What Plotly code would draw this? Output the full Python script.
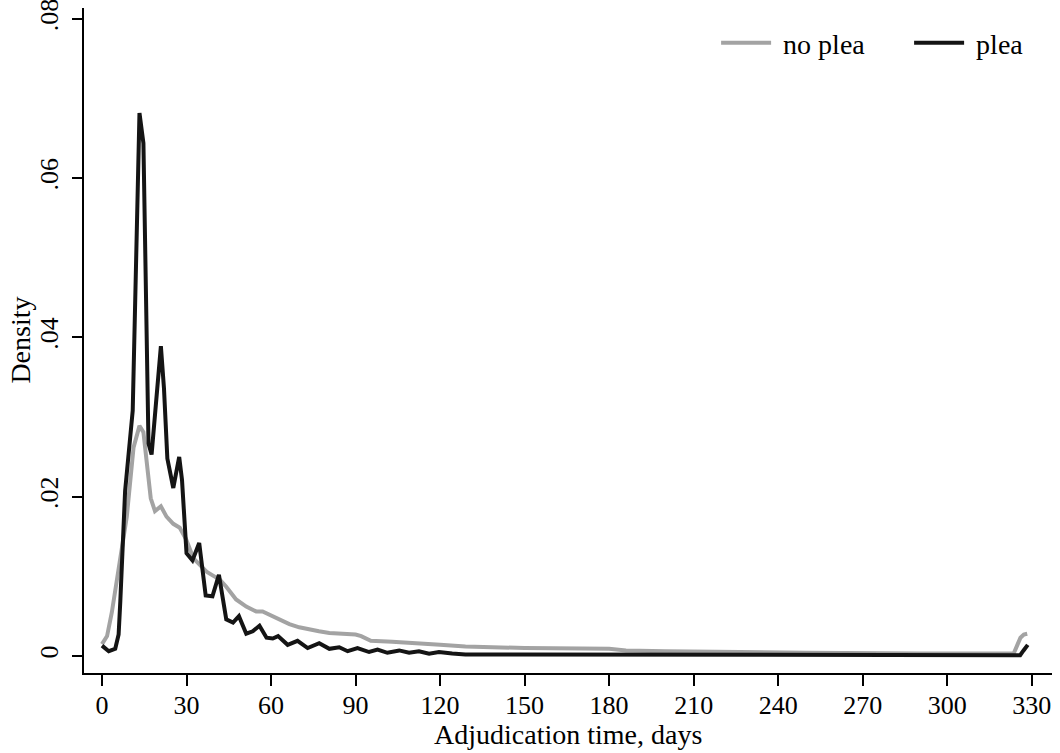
import plotly.graph_objects as go

# ---- data ----
plea_days = [0, 2.4, 4.7, 5.9, 6.5, 8.2, 10.9, 13.3, 14.7, 16.5, 17.6, 20.9, 22.0, 23.2,
             25.3, 27.4, 28.4, 30.0, 32.1, 34.5, 36.8, 39.2, 41.5, 44.1, 46.5, 48.6,
             51.2, 53.5, 55.9, 58.4, 60.6, 62.5, 65.9, 69.4, 73.0, 77.1, 80.7, 84.2,
             87.2, 90.7, 94.8, 97.8, 101.3, 105.5, 109.0, 112.5, 116.1, 119.6, 124.3,
             129.0, 136.0, 141.0, 150.0, 165.0, 180.0, 195.0, 210.0, 240.0, 270.0,
             300.0, 325.9, 327.1, 328.6]
plea_density = [0.0013, 0.0006, 0.0009, 0.0027, 0.0069, 0.0207, 0.0308, 0.0682, 0.0644,
                0.0267, 0.0253, 0.0389, 0.0336, 0.0248, 0.0211, 0.0250, 0.0221, 0.0129,
                0.0120, 0.0142, 0.0076, 0.0075, 0.0102, 0.0046, 0.0042, 0.0050, 0.0028,
                0.0031, 0.0038, 0.0023, 0.0022, 0.0025, 0.0014, 0.0019, 0.0010, 0.0016,
                0.0009, 0.0011, 0.0006, 0.0010, 0.0005, 0.0008, 0.0004, 0.0007, 0.0004,
                0.0006, 0.0003, 0.0005, 0.0003, 0.0002, 0.0002, 0.0002, 0.0002, 0.00015,
                0.00015, 0.0001, 0.0001, 0.0001, 0.0001, 0.0001, 0.0001, 0.0007, 0.0014]

noplea_days = [0, 1.8, 3.5, 5.9, 8.8, 11.2, 13.3, 14.7, 15.9, 17.3, 18.8, 20.9, 22.9,
               25.3, 27.6, 29.8, 32.4, 34.7, 37.1, 39.4, 41.8, 44.1, 47.6, 51.2, 54.7,
               57.0, 60.6, 62.9, 66.5, 70.0, 73.6, 77.0, 80.7, 85.0, 90.0, 92.0, 95.4,
               103.0, 110.0, 120.0, 129.0, 141.0, 150.0, 180.0, 183.0, 186.0, 200.0,
               220.0, 250.0, 290.0, 323.6, 324.8, 326.0, 327.2, 328.4]
noplea_density = [0.0015, 0.0025, 0.0055, 0.0106, 0.0175, 0.0262, 0.0289, 0.0281, 0.0244,
                  0.0198, 0.0182, 0.0188, 0.0175, 0.0166, 0.0161, 0.0147, 0.0123, 0.0115,
                  0.0106, 0.0101, 0.0096, 0.0087, 0.0071, 0.0062, 0.0056, 0.0056, 0.0050,
                  0.0046, 0.0040, 0.0036, 0.0033, 0.0031, 0.0029, 0.0028, 0.0027, 0.0025,
                  0.0019, 0.0018, 0.0016, 0.0014, 0.0012, 0.0011, 0.0010, 0.0009, 0.0008,
                  0.0007, 0.0006, 0.0005, 0.0004, 0.0003, 0.0003, 0.0013, 0.0023, 0.0027,
                  0.0028]

x_ticks = [0, 30, 60, 90, 120, 150, 180, 210, 240, 270, 300, 330]
y_ticks = [0, 0.02, 0.04, 0.06, 0.08]
y_tick_text = ["0", ".02", ".04", ".06", ".08"]

FONT = "Liberation Serif"
FS = 28
TFS = 26

fig = go.Figure()
fig.add_trace(go.Scatter(x=noplea_days, y=noplea_density, mode="lines", name=" no plea",
                         line=dict(color="#a3a3a3", width=4)))
fig.add_trace(go.Scatter(x=plea_days, y=plea_density, mode="lines", name=" plea",
                         line=dict(color="#141414", width=4)))

fig.update_layout(
    width=1060, height=753,
    margin=dict(l=84, r=8, t=8, b=80, autoexpand=False),
    paper_bgcolor="white", plot_bgcolor="white",
    font=dict(family=FONT, size=FS, color="black"),
    showlegend=True,
    legend=dict(orientation="h", x=0.653, xanchor="left", y=0.985, yanchor="top",
                itemwidth=50, entrywidth=128, bgcolor="rgba(0,0,0,0)",
                font=dict(size=FS), traceorder="normal"),
    annotations=[
        dict(text="Density", xref="paper", yref="paper", x=-0.066, y=0.5,
             xanchor="center", yanchor="middle", textangle=-90, showarrow=False,
             font=dict(size=FS)),
        dict(text="Adjudication time, days", xref="paper", yref="paper",
             x=0.5, y=-0.0925, xanchor="center", yanchor="middle", showarrow=False,
             font=dict(size=FS)),
    ],
)
fig.update_xaxes(
    range=[-6.39, 337.2], tickmode="array", tickvals=x_ticks,
    tickfont=dict(size=TFS), ticklabelstandoff=-3,
    showline=True, linecolor="black", linewidth=1.5, mirror=False,
    ticks="outside", ticklen=11, tickwidth=1.5, tickcolor="black",
    showgrid=False, zeroline=False, automargin=False,
)
fig.update_yaxes(
    range=[-0.002135, 0.08138], tickmode="array", tickvals=y_ticks, ticktext=y_tick_text,
    tickangle=-90, ticklabeloverflow="allow", ticklabelstandoff=4,
    tickfont=dict(size=TFS),
    showline=True, linecolor="black", linewidth=1.5, mirror=False,
    ticks="outside", ticklen=10, tickwidth=1.5, tickcolor="black",
    showgrid=False, zeroline=False, automargin=False,
)

fig.write_html("out.html")
